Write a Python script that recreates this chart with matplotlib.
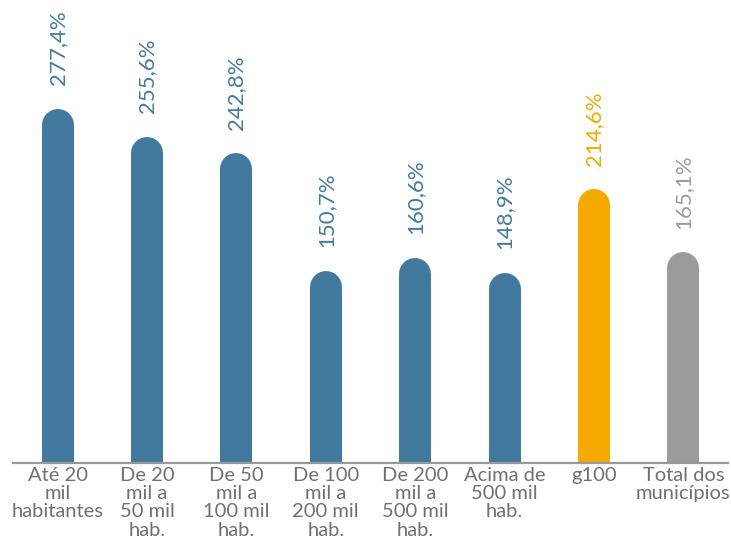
import matplotlib
matplotlib.use("Agg")
import matplotlib.pyplot as plt

categories = ["Até 20\nmil\nhabitantes", "De 20\nmil a\n50 mil\nhab.", "De 50\nmil a\n100 mil\nhab.",
              "De 100\nmil a\n200 mil\nhab.", "De 200\nmil a\n500 mil\nhab.", "Acima de\n500 mil\nhab.",
              "g100", "Total dos\nmunicípios"]
values = [277.4, 255.6, 242.8, 150.7, 160.6, 148.9, 214.6, 165.1]
labels = ["277,4%", "255,6%", "242,8%", "150,7%", "160,6%", "148,9%", "214,6%", "165,1%"]

BLUE = "#427A9F"
ORANGE = "#F5AA00"
GRAY = "#9B9B9B"
colors = [BLUE] * 6 + [ORANGE, GRAY]

plt.rcParams['font.family'] = ['Lato', 'DejaVu Sans']

fig = plt.figure(figsize=(7.31, 5.55), dpi=100)
ax = fig.add_axes([13 / 731, 1 - 463 / 555, 715 / 731, 463 / 555])
ax.set_xlim(-0.5, 7.5)
ymax = 463 / 1.276
ax.set_ylim(0, ymax)

bar_px = 32
cap_h = (bar_px / 2) / 1.276  # cap radius in data units (y)
x = list(range(len(values)))
lc = ax.vlines(x, -50, [v - cap_h for v in values], colors=colors,
               linewidth=bar_px * 72 / 100)
lc.set_capstyle("round")
for xi, v, c, lab in zip(x, values, colors, labels):
    ax.annotate(lab, (xi, v), xytext=(0, 17), textcoords="offset points",
                rotation=90, ha="center", va="bottom", color=c, fontsize=16)

ax.set_xticks(x)
ax.set_xticklabels(categories, fontsize=14.5, color="#707070", linespacing=1.08)
ax.tick_params(axis="x", length=0, pad=3)
ax.set_yticks([])
for s in ["top", "right", "left"]:
    ax.spines[s].set_visible(False)
ax.spines["bottom"].set_color("#999999")
ax.spines["bottom"].set_linewidth(1.6)
ax.spines["bottom"].set_zorder(5)

fig.savefig("out.png", dpi=100)
